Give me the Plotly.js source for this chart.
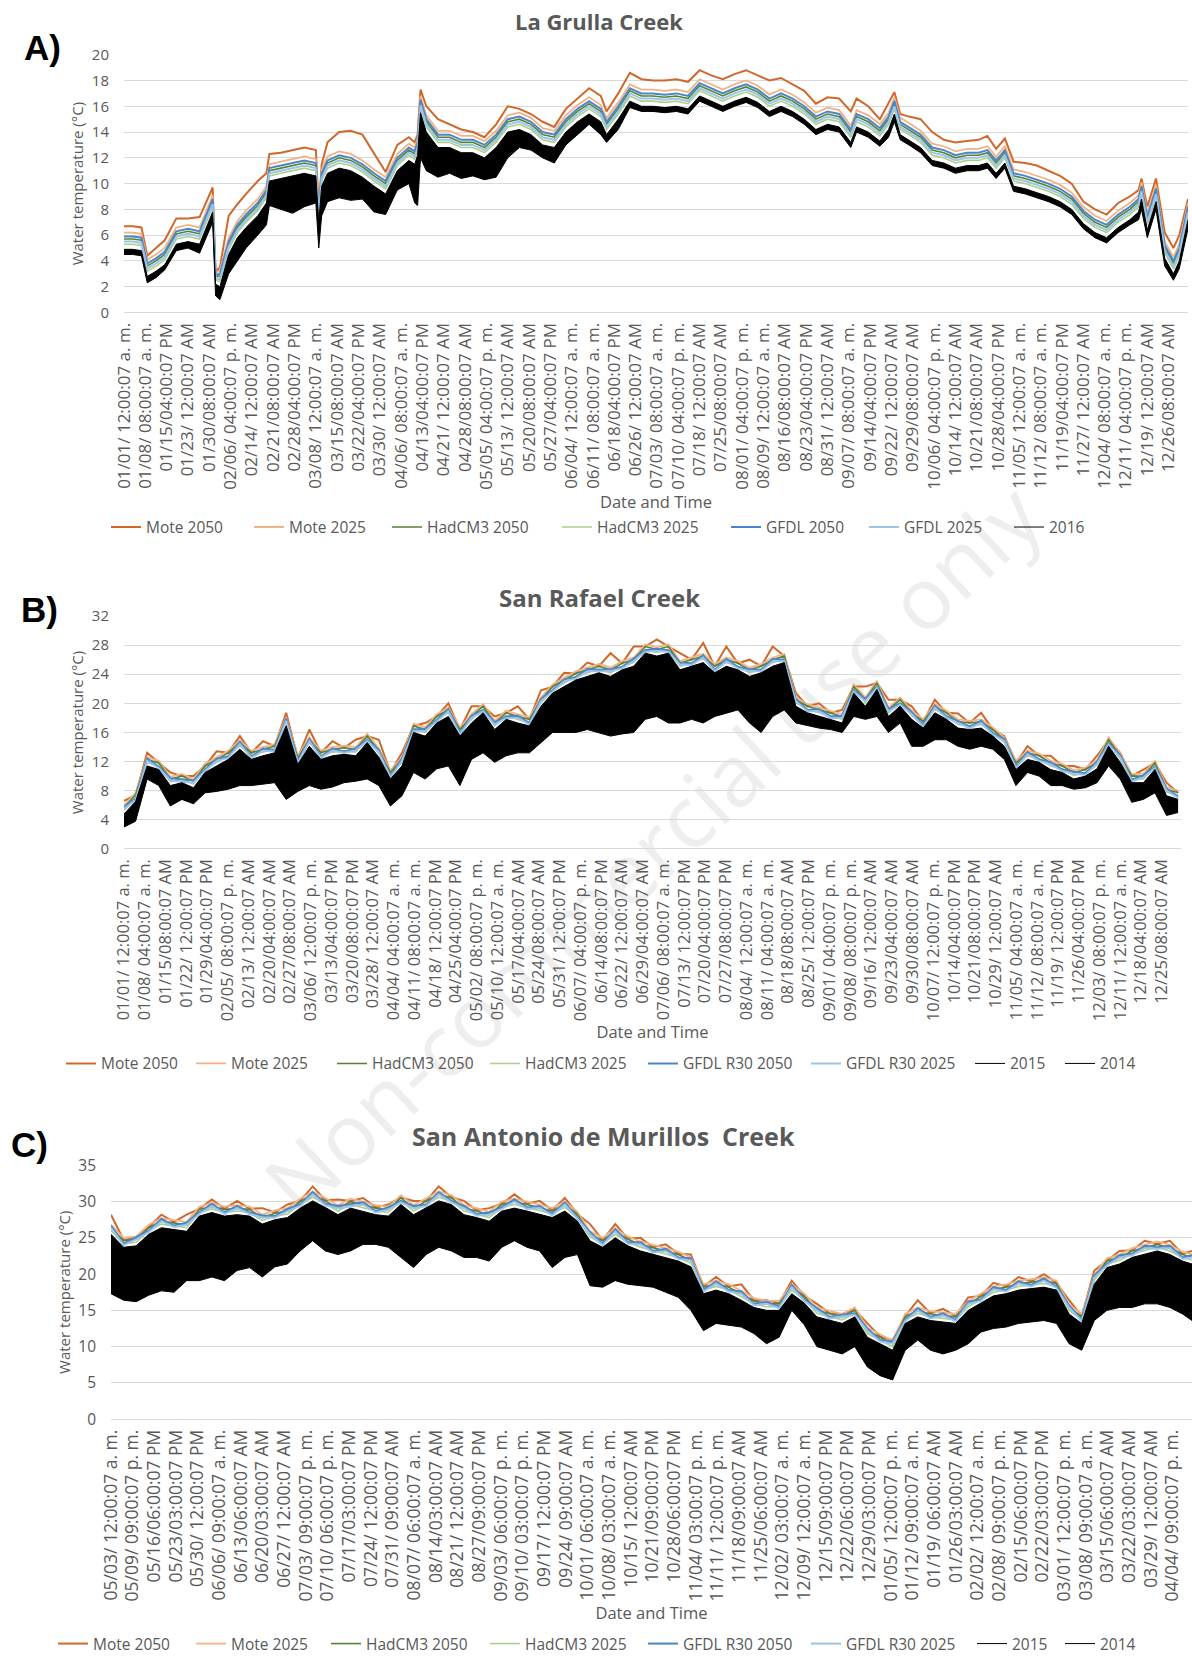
<!DOCTYPE html>
<html><head><meta charset="utf-8">
<script src="https://cdn.plot.ly/plotly-3.0.1.min.js"></script>
<style>
html,body{margin:0;padding:0;background:#fff;}
#wrap{position:relative;width:1192px;height:1661px;overflow:hidden;background:#fff;}
#wm{position:absolute;left:651px;top:848px;transform:translate(-50%,-50%) rotate(-43deg);font-family:'Open Sans',sans-serif;font-size:86px;color:#eeeeee;white-space:nowrap;z-index:0;}
#chart{position:absolute;left:0;top:0;width:1192px;height:1661px;z-index:1;}
</style></head><body>
<div id="wrap"><div id="wm">Non-commercial use only</div><div id="chart"></div></div>
<script>
// ---------------- Panel A : La Grulla Creek (2016), x = days since 01/01 ----------------
const dayA = [0,3,6,8,11,14,18,22,26,29,30.5,31.5,33,36,39,42,46,49,50,54,58,62,66,67,68,70,74,78,82,86,90,94,98,100,101,102,104,108,112,116,120,124,128,132,136,140,144,148,152,156,160,164,166,170,174,178,182,186,190,194,198,202,206,210,214,218,222,226,230,234,238,242,246,250,252,256,260,263,265,267,270,274,278,282,286,290,294,297,300,303,306,310,314,318,322,326,330,334,338,342,346,349,350,352,355,358,361,363,366];
const moteA2050 = [6.7,6.7,6.6,4.4,5.0,5.6,7.3,7.3,7.4,9.0,9.7,3.2,3.5,7.5,8.4,9.2,10.2,10.8,12.3,12.4,12.6,12.8,12.6,8.0,11.5,13.2,14.0,14.1,13.8,12.3,10.9,13.0,13.6,13.2,13.8,17.3,16.0,15.0,14.6,14.2,14.0,13.6,14.6,16.0,15.8,15.4,14.8,14.4,15.8,16.6,17.4,16.8,15.6,17.0,18.6,18.1,18.0,18.0,18.1,17.9,18.8,18.4,18.1,18.5,18.8,18.4,18.0,18.2,17.7,17.2,16.2,16.7,16.6,15.6,16.6,16.0,15.0,16.2,17.1,15.4,15.2,15.0,14.0,13.4,13.2,13.3,13.4,13.7,12.7,13.5,11.7,11.6,11.4,11.0,10.6,10.0,8.6,8.0,7.6,8.5,9.0,9.5,10.4,8.2,10.4,6.2,5.0,6.0,8.8];
const moteA2025 = [6.2,6.2,6.1,4.1,4.5,5.0,6.6,6.8,6.6,8.3,9.1,3.0,3.3,5.8,7.1,7.9,8.8,9.8,11.5,11.7,11.9,12.1,11.9,7.7,11.1,12.1,12.5,12.3,11.8,11.1,10.5,12.3,13.1,12.8,13.5,16.8,15.3,14.1,14.1,13.7,13.7,13.3,14.1,15.3,15.5,15.1,14.3,14.1,15.3,16.1,16.7,16.1,15.1,16.3,17.7,17.3,17.3,17.2,17.3,17.1,18.1,17.7,17.3,17.7,18.0,17.6,16.9,17.3,16.9,16.3,15.5,15.9,15.7,14.5,15.7,15.3,14.6,15.5,16.7,15.1,14.7,14.1,13.1,12.9,12.5,12.7,12.7,12.9,12.1,12.9,11.1,10.9,10.6,10.3,9.9,9.3,8.2,7.5,7.1,7.9,8.5,9.1,10.1,7.7,9.9,5.5,4.3,5.3,8.5];
const hadA2050 = [5.7,5.7,5.6,3.6,4.0,4.5,6.1,6.3,6.1,7.8,8.6,2.8,2.8,5.3,6.6,7.4,8.3,9.3,11.0,11.2,11.4,11.6,11.4,7.5,10.6,11.6,12.0,11.8,11.3,10.6,10.0,11.8,12.6,12.3,13.0,16.3,14.8,13.6,13.6,13.2,13.2,12.8,13.6,14.8,15.0,14.6,13.8,13.6,14.8,15.6,16.2,15.6,14.6,15.8,17.2,16.8,16.8,16.7,16.8,16.6,17.6,17.2,16.8,17.2,17.5,17.1,16.4,16.8,16.4,15.8,15.0,15.4,15.2,14.0,15.2,14.8,14.1,15.0,16.2,14.6,14.2,13.6,12.6,12.4,12.0,12.2,12.2,12.4,11.6,12.4,10.6,10.4,10.1,9.8,9.4,8.8,7.7,7.0,6.6,7.4,8.0,8.6,9.6,7.2,9.4,5.0,3.8,4.8,8.0];
const hadA2025 = [5.3,5.3,5.2,3.2,3.6,4.1,5.7,5.9,5.7,7.4,8.2,2.5,2.4,4.9,6.2,7.0,7.9,8.9,10.6,10.8,11.0,11.2,11.0,7.3,10.2,11.2,11.6,11.4,10.9,10.2,9.6,11.4,12.2,11.9,12.6,15.9,14.4,13.2,13.2,12.8,12.8,12.4,13.2,14.4,14.6,14.2,13.4,13.2,14.4,15.2,15.8,15.2,14.2,15.4,16.8,16.4,16.4,16.3,16.4,16.2,17.2,16.8,16.4,16.8,17.1,16.7,16.0,16.4,16.0,15.4,14.6,15.0,14.8,13.6,14.8,14.4,13.7,14.6,15.8,14.2,13.8,13.2,12.2,12.0,11.6,11.8,11.8,12.0,11.2,12.0,10.2,10.0,9.7,9.4,9.0,8.4,7.3,6.6,6.2,7.0,7.6,8.2,9.2,6.8,9.0,4.6,3.4,4.4,7.6];
const gfdlA2050 = [5.9,5.9,5.8,3.8,4.2,4.7,6.3,6.5,6.3,8.0,8.8,2.9,3.0,5.5,6.8,7.6,8.5,9.5,11.2,11.4,11.6,11.8,11.6,7.6,10.8,11.8,12.2,12.0,11.5,10.8,10.2,12.0,12.8,12.5,13.2,16.5,15.0,13.8,13.8,13.4,13.4,13.0,13.8,15.0,15.2,14.8,14.0,13.8,15.0,15.8,16.4,15.8,14.8,16.0,17.4,17.0,17.0,16.9,17.0,16.8,17.8,17.4,17.0,17.4,17.7,17.3,16.6,17.0,16.6,16.0,15.2,15.6,15.4,14.2,15.4,15.0,14.3,15.2,16.4,14.8,14.4,13.8,12.8,12.6,12.2,12.4,12.4,12.6,11.8,12.6,10.8,10.6,10.3,10.0,9.6,9.0,7.9,7.2,6.8,7.6,8.2,8.8,9.8,7.4,9.6,5.2,4.0,5.0,8.2];
const gfdlA2025 = [5.5,5.5,5.4,3.4,3.8,4.3,5.9,6.1,5.9,7.6,8.4,2.6,2.6,5.1,6.4,7.2,8.1,9.1,10.8,11.0,11.2,11.4,11.2,7.4,10.4,11.4,11.8,11.6,11.1,10.4,9.8,11.6,12.4,12.1,12.8,16.1,14.6,13.4,13.4,13.0,13.0,12.6,13.4,14.6,14.8,14.4,13.6,13.4,14.6,15.4,16.0,15.4,14.4,15.6,17.0,16.6,16.6,16.5,16.6,16.4,17.4,17.0,16.6,17.0,17.3,16.9,16.2,16.6,16.2,15.6,14.8,15.2,15.0,13.8,15.0,14.6,13.9,14.8,16.0,14.4,14.0,13.4,12.4,12.2,11.8,12.0,12.0,12.2,11.4,12.2,10.4,10.2,9.9,9.6,9.2,8.6,7.5,6.8,6.4,7.2,7.8,8.4,9.4,7.0,9.2,4.8,3.6,4.6,7.8];
const obsA2016High = [4.9,4.9,4.8,2.8,3.2,3.7,5.3,5.5,5.3,7.0,7.8,2.2,2.0,4.5,5.8,6.6,7.5,8.5,10.2,10.4,10.6,10.8,10.6,7.0,9.8,10.8,11.2,11.0,10.5,9.8,9.2,11.0,11.8,11.5,12.2,15.5,14.0,12.8,12.8,12.4,12.4,12.0,12.8,14.0,14.2,13.8,13.0,12.8,14.0,14.8,15.4,14.8,13.8,15.0,16.4,16.0,16.0,15.9,16.0,15.8,16.8,16.4,16.0,16.4,16.7,16.3,15.6,16.0,15.6,15.0,14.2,14.6,14.4,13.2,14.4,14.0,13.3,14.2,15.4,13.8,13.4,12.8,11.8,11.6,11.2,11.4,11.4,11.6,10.8,11.6,9.8,9.6,9.3,9.0,8.6,8.0,6.9,6.2,5.8,6.6,7.2,7.8,8.8,6.4,8.6,4.2,3.0,4.0,7.2];
const obsA2016Low = [4.5,4.5,4.4,2.3,2.7,3.3,4.8,5.0,4.6,6.3,7.0,1.3,1.0,3.0,4.0,5.0,6.0,6.8,8.3,8.0,7.7,8.2,8.5,5.0,7.5,8.6,8.9,8.7,8.8,7.8,7.6,9.5,10.0,8.5,8.3,12.0,11.0,10.5,10.8,10.4,10.6,10.3,10.5,12.0,12.8,12.6,12.0,11.6,13.0,13.8,14.6,13.8,13.2,14.2,15.9,15.6,15.6,15.5,15.6,15.4,16.4,16.0,15.6,16.0,16.3,15.9,15.2,15.6,15.2,14.6,13.8,14.2,14.0,12.8,14.0,13.6,12.9,13.6,14.8,13.4,13.0,12.4,11.4,11.2,10.8,11.0,11.0,11.2,10.4,11.2,9.4,9.2,8.9,8.6,8.2,7.6,6.5,5.8,5.4,6.2,6.8,7.2,8.0,5.8,8.0,3.6,2.5,3.4,6.5];
const labelStepHoursA = 176;
const labelsA = ["01/01/ 12:00:07 a. m.","01/08/ 08:00:07 a. m.","01/15/04:00:07 PM","01/23/ 12:00:07 AM","01/30/08:00:07 AM","02/06/ 04:00:07 p. m.","02/14/ 12:00:07 AM","02/21/08:00:07 AM","02/28/04:00:07 PM","03/08/ 12:00:07 a. m.","03/15/08:00:07 AM","03/22/04:00:07 PM","03/30/ 12:00:07 AM","04/06/ 08:00:07 a. m.","04/13/04:00:07 PM","04/21/ 12:00:07 AM","04/28/08:00:07 AM","05/05/ 04:00:07 p. m.","05/13/ 12:00:07 AM","05/20/08:00:07 AM","05/27/04:00:07 PM","06/04/ 12:00:07 a. m.","06/11/ 08:00:07 a. m.","06/18/04:00:07 PM","06/26/ 12:00:07 AM","07/03/ 08:00:07 a. m.","07/10/ 04:00:07 p. m.","07/18/ 12:00:07 AM","07/25/08:00:07 AM","08/01/ 04:00:07 p. m.","08/09/ 12:00:07 a. m.","08/16/08:00:07 AM","08/23/04:00:07 PM","08/31/ 12:00:07 AM","09/07/ 08:00:07 a. m.","09/14/04:00:07 PM","09/22/ 12:00:07 AM","09/29/08:00:07 AM","10/06/ 04:00:07 p. m.","10/14/ 12:00:07 AM","10/21/08:00:07 AM","10/28/04:00:07 PM","11/05/ 12:00:07 a. m.","11/12/ 08:00:07 a. m.","11/19/04:00:07 PM","11/27/ 12:00:07 AM","12/04/ 08:00:07 a. m.","12/11/ 04:00:07 p. m.","12/19/ 12:00:07 AM","12/26/08:00:07 AM"];

// ---------------- Panel B : San Rafael Creek (2015 / 2014), x = days since 01/01 ----------------
const dayB = [0,4,8,12,16,20,24,28,32,36,40,44,48,52,56,60,64,68,72,76,80,84,88,92,96,100,104,108,112,116,120,124,128,132,136,140,144,148,152,156,160,164,168,172,176,180,184,188,192,196,200,204,208,212,216,220,224,228,232,236,240,244,248,252,256,260,264,268,272,276,280,284,288,292,296,300,304,308,312,316,320,324,328,332,336,340,344,348,352,356,360,364];
const moteB2050 = [6.6,7.4,13.2,11.8,10.5,10.0,10.0,11.4,13.4,13.2,15.5,13.2,14.8,14.1,18.7,12.5,16.4,13.2,14.8,13.9,15.0,15.5,15.0,10.5,13.2,16.9,17.3,18.2,20.0,16.4,19.6,19.6,18.2,18.7,19.6,17.8,21.8,22.3,24.2,24.1,25.6,25.1,26.9,25.5,27.8,27.8,28.8,27.8,26.9,26.0,28.3,25.1,27.8,25.5,26.0,25.1,27.8,26.5,21.4,19.6,20.0,18.7,19.1,22.3,22.3,22.8,20.5,20.5,19.6,17.5,20.5,18.7,18.6,17.3,18.7,16.4,15.5,11.8,14.1,12.8,12.8,11.4,11.4,10.9,12.8,15.0,13.2,10.0,10.9,11.8,9.1,7.7];
const moteB2025 = [6.0,7.7,12.6,12.1,9.9,10.3,9.6,11.7,12.6,13.5,14.9,13.5,14.0,14.4,18.1,12.8,15.3,13.5,14.0,14.2,14.0,15.8,13.8,10.8,12.6,17.2,16.7,18.5,19.4,16.7,18.5,19.9,17.6,19.0,18.5,18.1,20.8,22.6,23.5,24.4,24.9,25.4,24.9,25.8,26.3,28.1,27.7,28.1,25.8,26.3,26.8,25.4,26.3,25.8,24.9,25.4,26.3,26.8,20.8,19.9,19.4,19.0,18.5,22.6,20.8,23.1,19.4,20.8,19.0,17.8,19.9,19.0,17.8,17.6,17.8,16.7,15.3,12.1,13.5,13.1,12.1,11.7,10.8,11.2,12.2,15.3,13.1,10.3,10.3,12.1,8.5,8.0];
const hadB2050 = [5.7,7.4,12.3,11.8,9.6,10.0,9.3,11.4,12.3,13.2,14.6,13.2,13.7,14.1,17.8,12.5,15.0,13.2,13.7,13.9,13.7,15.5,13.5,10.5,12.3,16.9,16.4,18.2,19.1,16.4,18.2,19.6,17.3,18.7,18.2,17.8,20.5,22.3,23.2,24.1,24.6,25.1,24.6,25.5,26.0,27.8,27.4,27.8,25.5,26.0,26.5,25.1,26.0,25.5,24.6,25.1,26.0,26.5,20.5,19.6,19.1,18.7,18.2,22.3,20.5,22.8,19.1,20.5,18.7,17.5,19.6,18.7,17.5,17.3,17.5,16.4,15.0,11.8,13.2,12.8,11.8,11.4,10.5,10.9,11.9,15.0,12.8,10.0,10.0,11.8,8.2,7.7];
const hadB2025 = [5.3,7.0,11.9,11.4,9.2,9.6,8.9,11.0,11.9,12.8,14.2,12.8,13.3,13.7,17.4,12.1,14.6,12.8,13.3,13.5,13.3,15.1,13.1,10.1,11.9,16.5,16.0,17.8,18.7,16.0,17.8,19.2,16.9,18.3,17.8,17.4,20.1,21.9,22.8,23.7,24.2,24.7,24.2,25.1,25.6,27.4,27.0,27.4,25.1,25.6,26.1,24.7,25.6,25.1,24.2,24.7,25.6,26.1,20.1,19.2,18.7,18.3,17.8,21.9,20.1,22.4,18.7,20.1,18.3,17.1,19.2,18.3,17.1,16.9,17.1,16.0,14.6,11.4,12.8,12.4,11.4,11.0,10.1,10.5,11.5,14.6,12.4,9.6,9.6,11.4,7.8,7.3];
const gfdlB2050 = [5.8,6.9,12.4,11.3,9.7,9.5,9.4,10.9,12.4,12.7,14.7,12.7,13.8,13.6,17.9,12.0,15.1,12.7,13.8,13.4,13.8,15.0,13.6,10.0,12.4,16.4,16.5,17.7,19.2,15.9,18.3,19.1,17.4,18.2,18.3,17.3,20.6,21.8,23.3,23.6,24.7,24.6,24.7,25.0,26.1,27.3,27.5,27.3,25.6,25.5,26.6,24.6,26.1,25.0,24.7,24.6,26.1,26.0,20.6,19.1,19.2,18.2,18.3,21.8,20.6,22.3,19.2,20.0,18.8,17.0,19.7,18.2,17.6,16.8,17.6,15.9,15.1,11.3,13.3,12.3,11.9,10.9,10.6,10.4,12.0,14.5,12.9,9.5,10.1,11.3,8.3,7.2];
const gfdlB2025 = [5.5,6.7,12.1,11.1,9.4,9.3,9.1,10.7,12.1,12.5,14.4,12.5,13.5,13.4,17.6,11.8,14.8,12.5,13.5,13.2,13.5,14.8,13.3,9.8,12.1,16.2,16.2,17.5,18.9,15.7,18.0,18.9,17.1,18.0,18.0,17.1,20.3,21.6,23.0,23.4,24.4,24.4,24.4,24.8,25.8,27.1,27.2,27.1,25.3,25.3,26.3,24.4,25.8,24.8,24.4,24.4,25.8,25.8,20.3,18.9,18.9,18.0,18.0,21.6,20.3,22.1,18.9,19.8,18.5,16.8,19.4,18.0,17.3,16.6,17.3,15.7,14.8,11.1,13.0,12.1,11.6,10.7,10.3,10.2,11.7,14.3,12.6,9.3,9.8,11.1,8.0,7.0];
const obsB2015High = [4.8,6.5,11.4,10.9,8.7,9.1,8.4,10.5,11.4,12.3,13.7,12.3,12.8,13.2,16.9,11.6,14.1,12.3,12.8,13.0,12.8,14.6,12.6,9.6,11.4,16.0,15.5,17.3,18.2,15.5,17.3,18.7,16.4,17.8,17.3,16.9,19.6,21.4,22.3,23.2,23.7,24.2,23.7,24.6,25.1,26.9,26.5,26.9,24.6,25.1,25.6,24.2,25.1,24.6,23.7,24.2,25.1,25.6,19.6,18.7,18.2,17.8,17.3,21.4,19.6,21.9,18.2,19.6,17.8,16.6,18.7,17.8,16.6,16.4,16.6,15.5,14.1,10.9,12.3,11.9,10.9,10.5,9.6,10.0,11.0,14.1,11.9,9.1,9.1,10.9,7.3,6.8];
const obsB2015Low = [3.0,3.8,9.6,8.7,5.9,6.8,6.2,7.7,7.9,8.2,8.7,8.7,8.9,9.1,6.8,7.9,8.7,8.2,8.5,9.1,9.3,9.6,8.7,5.9,7.3,10.5,9.6,11.0,11.4,8.7,12.3,13.2,11.9,12.8,13.2,13.2,14.6,16.0,16.0,16.0,16.4,16.0,15.5,15.8,16.0,17.8,18.2,17.3,17.3,17.8,17.3,18.2,18.7,19.1,17.3,16.0,18.2,19.1,17.3,16.9,16.6,16.4,16.0,18.2,17.8,18.2,16.0,17.3,14.1,14.1,15.0,15.0,14.1,13.7,14.1,13.7,12.3,8.7,10.5,10.0,8.7,8.7,8.2,8.4,9.1,11.4,9.6,6.4,6.8,7.7,4.6,5.0];
const obsB2014 = [3.9,5.1,10.5,9.8,7.3,8.0,7.3,9.1,9.6,10.2,11.2,10.5,10.8,11.1,11.8,9.7,11.4,10.2,10.6,11.0,11.0,12.1,10.6,7.7,9.3,13.2,12.5,14.1,14.8,12.1,14.8,15.9,14.1,15.3,15.2,15.0,17.1,18.7,19.1,19.6,20.0,20.1,19.6,20.2,20.5,22.3,22.3,22.1,20.9,21.4,21.4,21.2,21.9,21.8,20.5,20.1,21.6,22.3,18.4,17.8,17.4,17.1,16.6,19.8,18.7,20.0,17.1,18.4,15.9,15.3,16.8,16.4,15.3,15.0,15.3,14.6,13.2,9.8,11.4,10.9,9.8,9.6,8.9,9.2,10.0,12.7,10.7,7.7,7.9,9.3,5.9,5.9];
const labelStepHoursB = 172;
const labelsB = ["01/01/ 12:00:07 a. m.","01/08/ 04:00:07 a. m.","01/15/08:00:07 AM","01/22/ 12:00:07 PM","01/29/04:00:07 PM","02/05/ 08:00:07 p. m.","02/13/ 12:00:07 AM","02/20/04:00:07 AM","02/27/08:00:07 AM","03/06/ 12:00:07 p. m.","03/13/04:00:07 PM","03/20/08:00:07 PM","03/28/ 12:00:07 AM","04/04/ 04:00:07 a. m.","04/11/ 08:00:07 a. m.","04/18/ 12:00:07 PM","04/25/04:00:07 PM","05/02/ 08:00:07 p. m.","05/10/ 12:00:07 a. m.","05/17/04:00:07 AM","05/24/08:00:07 AM","05/31/ 12:00:07 PM","06/07/ 04:00:07 p. m.","06/14/08:00:07 PM","06/22/ 12:00:07 AM","06/29/04:00:07 AM","07/06/ 08:00:07 a. m.","07/13/ 12:00:07 PM","07/20/04:00:07 PM","07/27/08:00:07 PM","08/04/ 12:00:07 a. m.","08/11/ 04:00:07 a. m.","08/18/08:00:07 AM","08/25/ 12:00:07 PM","09/01/ 04:00:07 p. m.","09/08/ 08:00:07 p. m.","09/16/ 12:00:07 AM","09/23/04:00:07 AM","09/30/08:00:07 AM","10/07/ 12:00:07 p. m.","10/14/04:00:07 PM","10/21/08:00:07 PM","10/29/ 12:00:07 AM","11/05/ 04:00:07 a. m.","11/12/ 08:00:07 a. m.","11/19/ 12:00:07 PM","11/26/04:00:07 PM","12/03/ 08:00:07 p. m.","12/11/ 12:00:07 a. m.","12/18/04:00:07 AM","12/25/08:00:07 AM"];

// ---------------- Panel C : San Antonio de Murillos Creek, x = days since 05/03 ----------------
const dayC = [0,4,8,12,16,20,24,28,32,36,40,44,48,52,56,60,64,68,72,76,80,84,88,92,96,100,104,108,112,116,120,124,128,132,136,140,144,148,152,156,160,164,168,172,176,180,184,188,192,196,200,204,208,212,216,220,224,228,232,236,240,244,248,252,256,260,264,268,272,276,280,284,288,292,296,300,304,308,312,316,320,324,328,332,336,340,343];
const moteC2050 = [28.2,24.7,25.0,26.5,28.2,27.2,28.2,29.0,30.3,29.0,30.1,29.0,29.1,28.5,29.6,30.1,32.1,30.2,30.3,30.1,30.5,29.2,29.6,30.6,30.1,30.1,32.1,30.6,30.1,28.8,29.1,29.7,31.0,29.7,30.1,28.8,30.5,28.3,26.9,24.7,26.9,24.9,25.0,23.7,24.1,22.8,22.7,18.3,19.6,18.3,18.6,16.4,16.4,16.0,19.1,17.0,15.9,14.6,14.5,15.1,13.2,11.4,10.9,14.2,16.4,14.6,15.2,14.2,16.8,17.0,18.8,18.3,19.6,19.0,20.0,18.8,16.4,14.2,20.5,21.9,23.2,23.3,24.6,24.2,24.6,22.8,23.2];
const moteC2025 = [26.8,25.0,25.2,26.8,27.7,27.5,27.2,29.3,29.8,29.3,29.5,29.3,28.2,28.8,29.1,30.4,31.4,30.5,29.5,30.4,30.0,29.5,29.3,30.9,29.5,30.4,31.4,30.9,29.5,29.1,28.6,30.0,30.4,30.0,29.5,29.1,30.0,28.6,25.9,25.0,26.3,25.2,24.5,24.0,23.6,23.1,22.3,18.6,19.1,18.6,17.7,16.7,16.3,16.3,18.6,17.3,15.4,14.9,14.5,15.4,12.6,11.7,10.8,14.5,15.4,14.9,14.7,14.5,16.3,17.3,18.3,18.6,19.1,19.3,19.5,19.1,15.8,14.5,19.9,22.2,22.7,23.6,24.0,24.5,24.0,23.1,22.7];
const hadC2050 = [26.4,24.6,24.8,26.4,27.3,27.1,26.8,28.9,29.4,28.9,29.1,28.9,27.8,28.4,28.7,30.0,31.0,30.1,29.1,30.0,29.6,29.1,28.9,30.5,29.1,30.0,31.0,30.5,29.1,28.7,28.2,29.6,30.0,29.6,29.1,28.7,29.6,28.2,25.5,24.6,25.9,24.8,24.1,23.6,23.2,22.7,21.9,18.2,18.7,18.2,17.3,16.3,15.9,15.9,18.2,16.9,15.0,14.5,14.1,15.0,12.2,11.3,10.4,14.1,15.0,14.5,14.3,14.1,15.9,16.9,17.9,18.2,18.7,18.9,19.1,18.7,15.4,14.1,19.5,21.8,22.3,23.2,23.6,24.1,23.6,22.7,22.3];
const hadC2025 = [26.0,24.2,24.4,26.0,26.9,26.7,26.4,28.5,29.0,28.5,28.7,28.5,27.4,28.0,28.3,29.6,30.6,29.7,28.7,29.6,29.2,28.7,28.5,30.1,28.7,29.6,30.6,30.1,28.7,28.3,27.8,29.2,29.6,29.2,28.7,28.3,29.2,27.8,25.1,24.2,25.5,24.4,23.7,23.2,22.8,22.3,21.5,17.8,18.3,17.8,16.9,15.9,15.5,15.5,17.8,16.5,14.6,14.1,13.7,14.6,11.8,10.9,10.0,13.7,14.6,14.1,13.9,13.7,15.5,16.5,17.5,17.8,18.3,18.5,18.7,18.3,15.0,13.7,19.1,21.4,21.9,22.8,23.2,23.7,23.2,22.3,21.9];
const gfdlC2050 = [26.7,24.2,25.1,26.0,27.6,26.7,27.1,28.5,29.7,28.5,29.4,28.5,28.1,28.0,29.0,29.6,31.3,29.7,29.4,29.6,29.9,28.7,29.2,30.1,29.4,29.6,31.3,30.1,29.4,28.3,28.5,29.2,30.3,29.2,29.4,28.3,29.9,27.8,25.8,24.2,26.2,24.4,24.4,23.2,23.5,22.3,22.2,17.8,19.0,17.8,17.6,15.9,16.2,15.5,18.5,16.5,15.3,14.1,14.4,14.6,12.5,10.9,10.7,13.7,15.3,14.1,14.6,13.7,16.2,16.5,18.2,17.8,19.0,18.5,19.4,18.3,15.7,13.7,19.8,21.4,22.6,22.8,23.9,23.7,23.9,22.3,22.6];
const gfdlC2025 = [26.4,24.0,24.8,25.8,27.3,26.5,26.8,28.3,29.4,28.3,29.1,28.3,27.8,27.8,28.7,29.4,31.0,29.5,29.1,29.4,29.6,28.5,28.9,29.9,29.1,29.4,31.0,29.9,29.1,28.1,28.2,29.0,30.0,29.0,29.1,28.1,29.6,27.6,25.5,24.0,25.9,24.2,24.1,23.0,23.2,22.1,21.9,17.6,18.7,17.6,17.3,15.7,15.9,15.3,18.2,16.3,15.0,13.9,14.1,14.4,12.2,10.7,10.4,13.5,15.0,13.9,14.3,13.5,15.9,16.3,17.9,17.6,18.7,18.3,19.1,18.1,15.4,13.5,19.5,21.2,22.3,22.6,23.6,23.5,23.6,22.1,22.3];
const obsC2015High = [25.5,23.7,23.9,25.5,26.4,26.2,25.9,28.0,28.5,28.0,28.2,28.0,26.9,27.5,27.8,29.1,30.1,29.2,28.2,29.1,28.7,28.2,28.0,29.6,28.2,29.1,30.1,29.6,28.2,27.8,27.3,28.7,29.1,28.7,28.2,27.8,28.7,27.3,24.6,23.7,25.0,23.9,23.2,22.7,22.3,21.8,21.0,17.3,17.8,17.3,16.4,15.4,15.0,15.0,17.3,16.0,14.1,13.6,13.2,14.1,11.3,10.4,9.5,13.2,14.1,13.6,13.4,13.2,15.0,16.0,17.0,17.3,17.8,18.0,18.2,17.8,14.5,13.2,18.6,20.9,21.4,22.3,22.7,23.2,22.7,21.8,21.4];
const obsC2015Low = [17.3,16.4,16.2,17.1,17.7,17.5,19.1,19.1,19.6,19.1,20.5,20.9,19.6,21.0,21.4,23.2,24.6,23.2,22.7,23.2,24.1,24.1,23.7,22.3,20.9,22.7,23.7,23.2,22.3,22.3,21.8,23.7,24.6,23.7,23.2,20.9,22.3,22.7,18.4,18.2,19.1,18.6,18.4,18.2,17.5,16.8,15.0,12.2,13.2,13.0,12.7,11.8,10.4,11.3,15.0,13.0,10.0,9.5,9.0,10.0,7.2,6.0,5.4,9.5,10.9,9.5,9.0,9.5,10.4,12.0,12.5,12.7,13.2,13.4,13.6,13.2,10.4,9.5,13.6,15.0,15.4,15.4,15.9,15.9,15.4,14.5,13.6];
const obsC2014 = [21.4,20.0,20.0,21.3,22.0,21.8,22.5,23.5,24.0,23.5,24.3,24.4,23.2,24.2,24.6,26.1,27.3,26.2,25.4,26.1,26.4,26.1,25.8,25.9,24.5,25.9,26.9,26.4,25.2,25.0,24.5,26.2,26.8,26.2,25.7,24.3,25.5,25.0,21.5,20.9,22.0,21.2,20.8,20.4,19.9,19.3,18.0,14.7,15.5,15.1,14.5,13.6,12.7,13.1,16.1,14.5,12.0,11.5,11.1,12.0,9.2,8.2,7.4,11.3,12.5,11.5,11.2,11.3,12.7,14.0,14.7,15.0,15.5,15.7,15.9,15.5,12.4,11.3,16.1,17.9,18.4,18.8,19.3,19.5,19.0,18.1,17.5];
const labelStepHoursC = 165;
const labelsC = ["05/03/ 12:00:07 a. m.","05/09/ 09:00:07 p. m.","05/16/06:00:07 PM","05/23/03:00:07 PM","05/30/ 12:00:07 PM","06/06/ 09:00:07 a. m.","06/13/06:00:07 AM","06/20/03:00:07 AM","06/27/ 12:00:07 AM","07/03/ 09:00:07 p. m.","07/10/ 06:00:07 p. m.","07/17/03:00:07 PM","07/24/ 12:00:07 PM","07/31/ 09:00:07 AM","08/07/ 06:00:07 a. m.","08/14/03:00:07 AM","08/21/ 12:00:07 AM","08/27/09:00:07 PM","09/03/ 06:00:07 p. m.","09/10/ 03:00:07 p. m.","09/17/ 12:00:07 PM","09/24/ 09:00:07 AM","10/01/ 06:00:07 a. m.","10/08/ 03:00:07 a. m.","10/15/ 12:00:07 AM","10/21/09:00:07 PM","10/28/06:00:07 PM","11/04/ 03:00:07 p. m.","11/11/ 12:00:07 p. m.","11/18/09:00:07 AM","11/25/06:00:07 AM","12/02/ 03:00:07 a. m.","12/09/ 12:00:07 a. m.","12/15/09:00:07 PM","12/22/06:00:07 PM","12/29/03:00:07 PM","01/05/ 12:00:07 p. m.","01/12/ 09:00:07 a. m.","01/19/ 06:00:07 AM","01/26/03:00:07 AM","02/02/ 12:00:07 a. m.","02/08/ 09:00:07 p. m.","02/15/06:00:07 PM","02/22/03:00:07 PM","03/01/ 12:00:07 p. m.","03/08/ 09:00:07 a. m.","03/15/06:00:07 AM","03/22/03:00:07 AM","03/29/ 12:00:07 AM","04/04/ 09:00:07 p. m."];

// ---------------- drawing ----------------
const W = 1192, H = 1661;
const fx = v => v / W, fy = v => 1 - v / H;
const FONT = "'Open Sans', 'Noto Sans', sans-serif";
const GREY = '#595959';
const COL = {m50:'#D0682C', m25:'#F4B183', h50:'#548235', h25:'#A9D18E', g50:'#4A86C5', g25:'#9DC3E6', obs:'#000000'};
const WID = {m50:2, m25:1.8, h50:1.6, h25:1.6, g50:2, g25:2};

const traces = [];
function panel(ax, leg, x, series, hi, lo, obsName, extra, lw) {
  const xa = 'x' + ax, ya = 'y' + ax;
  series.forEach((s, i) => traces.push({type:'scatter', mode:'lines', x:x, y:s.y, name:s.name, xaxis:xa, yaxis:ya,
    legend:leg, legendwidth:lw[i], line:{color:COL[s.k], width:WID[s.k]}, hoverinfo:'skip'}));
  traces.push({type:'scatter', mode:'lines', x:x, y:lo, name:obsName, xaxis:xa, yaxis:ya, legend:leg, legendwidth:lw[6],
    legendgroup:leg+obsName, line:{color:COL.obs, width:1}, hoverinfo:'skip'});
  traces.push({type:'scatter', mode:'lines', x:x, y:hi, name:obsName, xaxis:xa, yaxis:ya, legend:leg,
    legendgroup:leg+obsName, showlegend:false, fill:'tonexty', fillcolor:COL.obs, line:{color:COL.obs, width:1}, hoverinfo:'skip'});
  if (extra) traces.push({type:'scatter', mode:'lines', x:x, y:extra.y, name:extra.name, xaxis:xa, yaxis:ya,
    legend:leg, legendwidth:lw[7], line:{color:COL.obs, width:1}, hoverinfo:'skip'});
}
panel('', 'legend', dayA, [
  {y:moteA2050, name:'Mote 2050', k:'m50'}, {y:moteA2025, name:'Mote 2025', k:'m25'},
  {y:hadA2050, name:'HadCM3 2050', k:'h50'}, {y:hadA2025, name:'HadCM3 2025', k:'h25'},
  {y:gfdlA2050, name:'GFDL 2050', k:'g50'}, {y:gfdlA2025, name:'GFDL 2025', k:'g25'}],
  obsA2016High, obsA2016Low, '2016', null, [98, 93, 125, 124, 93, 100, 40]);
panel('2', 'legend2', dayB, [
  {y:moteB2050, name:'Mote 2050', k:'m50'}, {y:moteB2025, name:'Mote 2025', k:'m25'},
  {y:hadB2050, name:'HadCM3 2050', k:'h50'}, {y:hadB2025, name:'HadCM3 2025', k:'h25'},
  {y:gfdlB2050, name:'GFDL R30 2050', k:'g50'}, {y:gfdlB2025, name:'GFDL R30 2025', k:'g25'}],
  obsB2015High, obsB2015Low, '2015', {y:obsB2014, name:'2014'}, [85, 96, 108, 113, 118, 119, 45, 40]);
panel('3', 'legend3', dayC, [
  {y:moteC2050, name:'Mote 2050', k:'m50'}, {y:moteC2025, name:'Mote 2025', k:'m25'},
  {y:hadC2050, name:'HadCM3 2050', k:'h50'}, {y:hadC2025, name:'HadCM3 2025', k:'h25'},
  {y:gfdlC2050, name:'GFDL R30 2050', k:'g50'}, {y:gfdlC2025, name:'GFDL R30 2025', k:'g25'}],
  obsC2015High, obsC2015Low, '2015', {y:obsC2014, name:'2014'}, [93, 90, 114, 113, 118, 121, 43, 40]);

function xAxis(domain, range, labels, stepHours, anchor, fs) {
  return {domain:domain, range:range, anchor:anchor, tickmode:'array',
    tickvals: labels.map((_, i) => i * stepHours / 24), ticktext: labels,
    tickangle:-90, tickfont:{family:FONT, size:fs, color:GREY}, ticks:'', ticklabelstandoff:6,
    showgrid:false, zeroline:false, showline:false,
    title:{text:'Date and Time', font:{family:FONT, size:16.5, color:GREY}, standoff:6}};
}
function yAxis(domain, range, dtick, anchor, fs) {
  return {domain:domain, range:range, dtick:dtick, tick0:0, anchor:anchor,
    showgrid:true, gridcolor:'#D9D9D9', gridwidth:1, zeroline:true, zerolinecolor:'#D9D9D9', zerolinewidth:1,
    showline:false, ticks:'', ticklabelstandoff:14, tickfont:{family:FONT, size:fs, color:GREY},
    title:{text:'Water temperature (°C)', font:{family:FONT, size:15, color:GREY}, standoff:4}};
}
function legendAt(x, y) {
  return {orientation:'h', x:fx(x), y:fy(y), xanchor:'left', yanchor:'middle', bgcolor:'rgba(0,0,0,0)',
    font:{family:FONT, size:15.5, color:GREY}, itemwidth:30, traceorder:'normal'};
}
function ann(text, x, y, size, color, family) {
  return {text:text, x:fx(x), y:fy(y), xref:'paper', yref:'paper', showarrow:false,
    xanchor:'center', yanchor:'middle', font:{family:family || FONT, size:size, color:color}};
}
const LETTER = "'Liberation Sans', Arial, sans-serif";
const layout = {
  width:W, height:H, margin:{l:0, r:0, t:0, b:0},
  paper_bgcolor:'rgba(0,0,0,0)', plot_bgcolor:'rgba(0,0,0,0)', showlegend:true,
  xaxis: xAxis([fx(124), fx(1188)], [0, 366], labelsA, labelStepHoursA, 'y', 17),
  yaxis: yAxis([fy(314), fy(55)], [0, 20], 2, 'x', 15),
  xaxis2: xAxis([fx(124), fx(1181)], [0, 365], labelsB, labelStepHoursB, 'y2', 16.5),
  yaxis2: yAxis([fy(853), fy(619)], [0, 32], 4, 'x2', 15),
  xaxis3: xAxis([fx(111), fx(1192)], [0, 343], labelsC, labelStepHoursC, 'y3', 17.5),
  yaxis3: yAxis([fy(1426), fy(1171)], [0, 35], 5, 'x3', 15.5),
  legend: legendAt(106, 530),
  legend2: legendAt(61, 1069),
  legend3: legendAt(53, 1652),
  annotations: [
    ann('<b>La Grulla Creek</b>', 599, 21, 22, GREY),
    ann('<b>San Rafael Creek</b>', 599, 600, 24, GREY),
    ann('<b>San Antonio de Murillos  Creek</b>', 603, 1142, 25, GREY),
    ann('<b>A)</b>', 42, 48, 35, '#000', LETTER),
    ann('<b>B)</b>', 39, 612, 35, '#000', LETTER),
    ann('<b>C)</b>', 30, 1150, 35, '#000', LETTER)
  ]
};
Plotly.newPlot('chart', traces, layout, {staticPlot:true, displayModeBar:false});
</script></body></html>
